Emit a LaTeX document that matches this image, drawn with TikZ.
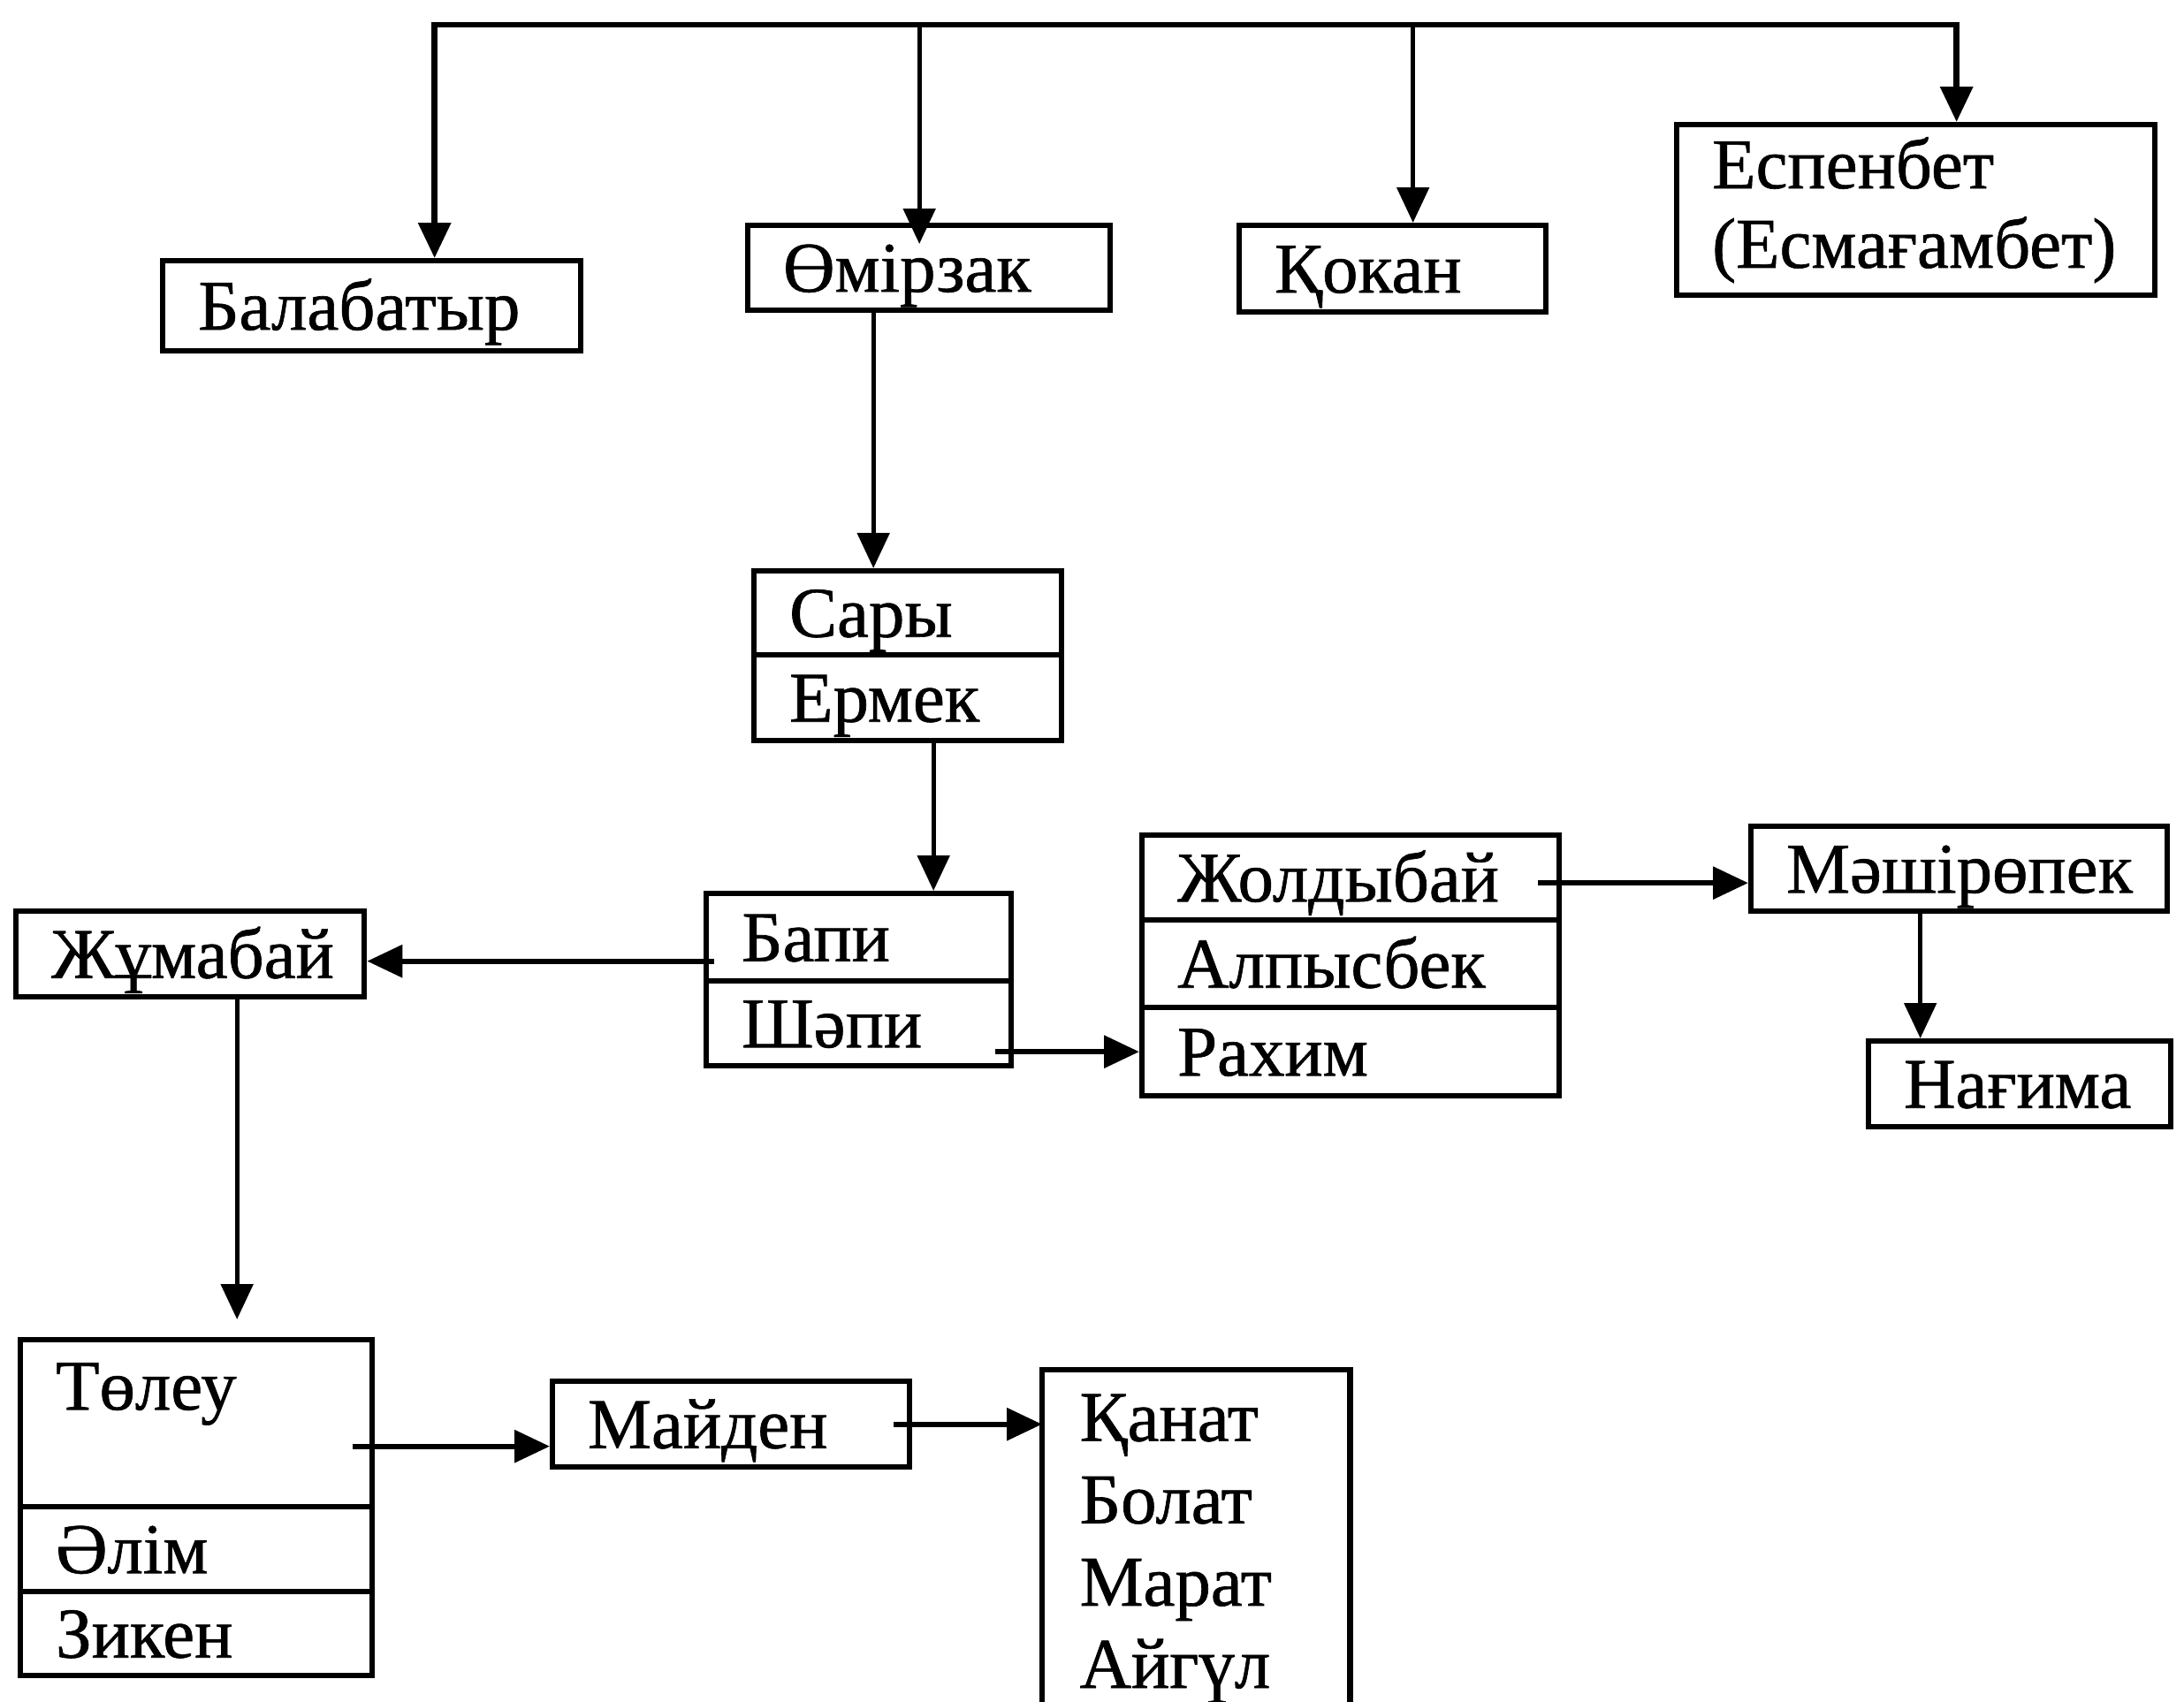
\documentclass[tikz,border=0pt]{standalone}
\usepackage{fontspec}
\setmainfont{Liberation Serif}
\newfontfamily\heavyfont{Liberation Serif}[FakeBold=0.8]
\usetikzlibrary{arrows.meta}
\hyphenpenalty=10000
\begin{document}
\begin{tikzpicture}[
  box/.style={draw, line width=1.8pt, rectangle, anchor=north west, inner xsep=0.4cm, inner ysep=0pt, align=left, font=\heavyfont\fontsize{23}{25.6}\selectfont},
  one/.style={text height=0.62cm, text depth=0.08cm},
  conn/.style={line width=1.5pt, -{Triangle[length=0.4cm,width=0.36cm]}},
  hconn/.style={conn, line width=1.8pt},
  frame/.style={line width=1.8pt}
]
\useasboundingbox (0,0) rectangle (24.71,-19.25);
\coordinate (top) at (0,-0.28);
\coordinate (bottom) at (0,-19.40);

% top row
\node[box, one, minimum width=4.73cm, minimum height=1.02cm, text width=3.93cm] (bala) at (1.81,-2.92) {Балабатыр};
\node[box, one, minimum width=4.10cm, minimum height=0.96cm, text width=3.30cm] (omir) at (8.43,-2.52) {Өмірзак};
\node[box, one, minimum width=3.47cm, minimum height=0.98cm, text width=2.67cm] (kokan) at (13.99,-2.52) {Қокан};
\node[box, minimum width=5.41cm, minimum height=1.93cm, text width=4.61cm] (esp) at (18.94,-1.38) {Еспенбет\\(Есмағамбет)};

% Sary / Ermek
\node[box, one, minimum width=3.48cm, minimum height=0.95cm, text width=2.68cm] (sary) at (8.50,-6.43) {Сары};
\node[box, one, minimum width=3.48cm, minimum height=0.97cm, text width=2.68cm] (ermek) at (8.50,-7.38) {Ермек};

% Bapi / Shapi
\node[box, one, minimum width=3.45cm, minimum height=0.99cm, text width=2.65cm] (bapi) at (7.96,-10.08) {Бапи};
\node[box, one, minimum width=3.45cm, minimum height=0.96cm, text width=2.65cm] (shapi) at (7.96,-11.07) {Шәпи};

% Zhumabai
\node[box, one, minimum width=3.94cm, minimum height=0.97cm, text width=3.14cm] (zhum) at (0.15,-10.28) {Жұмабай};

% Zholdybai group
\node[box, one, minimum width=4.72cm, minimum height=0.96cm, text width=3.92cm] (zhold) at (12.89,-9.42) {Жолдыбай};
\node[box, one, minimum width=4.72cm, minimum height=0.99cm, text width=3.92cm] (alpys) at (12.89,-10.38) {Алпысбек};
\node[box, one, minimum width=4.72cm, minimum height=1.00cm, text width=3.92cm] (rakhim) at (12.89,-11.37) {Рахим};

% Mashiropek / Nagima
\node[box, one, minimum width=4.71cm, minimum height=0.96cm, text width=3.91cm] (mash) at (19.78,-9.32) {Мәшірөпек};
\node[box, one, minimum width=3.42cm, minimum height=0.97cm, text width=2.62cm] (nagima) at (21.11,-11.75) {Нағима};

% Toleu group
\node[box, minimum width=3.98cm, text width=3.18cm, inner ysep=0.15cm, text height=0.64cm, text depth=0.95cm] (tole) at (0.20,-15.13) {Төлеу};
\node[box, one, minimum width=3.98cm, minimum height=0.96cm, text width=3.18cm] (alim) at (0.20,-17.02) {Әлім};
\node[box, one, minimum width=3.98cm, minimum height=0.95cm, text width=3.18cm] (ziken) at (0.20,-17.98) {Зикен};

% Maiden
\node[box, one, minimum width=4.04cm, minimum height=0.97cm, text width=3.24cm] (maiden) at (6.22,-15.60) {Майден};

% children list
\node[anchor=north west, inner xsep=0.42cm, inner ysep=0.27cm, minimum width=3.47cm, text width=2.63cm, align=left, font=\heavyfont\fontsize{23}{26.5}\selectfont] (list) at (11.79,-15.50) {Қанат\\Болат\\Марат\\Айгүл};
\draw[frame] (list.north west |- bottom) -- (list.north west) -- (list.north east) -- (list.north east |- bottom);

% connectors
\draw[line width=1.9pt, {Triangle[length=0.4cm,width=0.36cm]}-{Triangle[length=0.4cm,width=0.36cm]}]
  ([xshift=0.71cm]bala.north) -- ([xshift=0.71cm]bala.north |- top) -- ([xshift=0.46cm]esp.north |- top) -- ([xshift=0.46cm]esp.north);
\draw[conn, shorten >=-0.24cm] ([xshift=-0.11cm]omir.north |- top) -- ([xshift=-0.11cm]omir.north);
\draw[conn] ([xshift=0.23cm]kokan.north |- top) -- ([xshift=0.23cm]kokan.north);
\draw[conn] ([xshift=-0.63cm]omir.south) -- ([xshift=-0.63cm]omir.south |- sary.north);
\draw[conn] ([xshift=0.29cm]ermek.south) -- ([xshift=0.29cm]ermek.south |- bapi.north);
\draw[hconn] ([xshift=0.12cm,yshift=-0.08cm]bapi.west |- zhum.east) -- ([yshift=-0.08cm]zhum.east);
\draw[hconn] ([xshift=-0.21cm]shapi.east |- rakhim.west) -- (rakhim.west);
\draw[hconn] ([xshift=-0.27cm,yshift=-0.06cm]zhold.east) -- ([yshift=-0.06cm]zhold.east -| mash.west);
\draw[conn] ([xshift=-0.44cm]mash.south) -- ([xshift=-0.44cm]mash.south |- nagima.north);
\draw[conn, shorten >=0.2cm] ([xshift=0.53cm]zhum.south) -- ([xshift=0.53cm]zhum.south |- tole.north);
\draw[hconn] ([xshift=-0.25cm,yshift=-0.25cm]maiden.west -| tole.east) -- ([yshift=-0.25cm]maiden.west);
\draw[hconn] ([xshift=-0.21cm]maiden.east) -- (maiden.east -| list.west);
\end{tikzpicture}
\end{document}
